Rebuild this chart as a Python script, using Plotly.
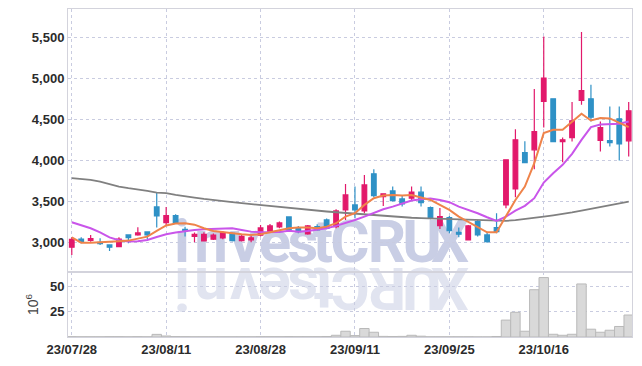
import plotly.graph_objects as go

dates = ["23/07/28", "23/07/31", "23/08/01", "23/08/02", "23/08/03", "23/08/04",
         "23/08/07", "23/08/08", "23/08/09", "23/08/10", "23/08/11",
         "23/08/14", "23/08/16", "23/08/17", "23/08/18",
         "23/08/21", "23/08/22", "23/08/23", "23/08/24", "23/08/25",
         "23/08/28", "23/08/29", "23/08/30", "23/08/31", "23/09/01",
         "23/09/04", "23/09/05", "23/09/06", "23/09/07", "23/09/08",
         "23/09/11", "23/09/12", "23/09/13", "23/09/14", "23/09/15",
         "23/09/18", "23/09/19", "23/09/20", "23/09/21", "23/09/22",
         "23/09/25", "23/09/26", "23/09/27", "23/10/04", "23/10/05", "23/10/06",
         "23/10/10", "23/10/11", "23/10/12", "23/10/13",
         "23/10/16", "23/10/17", "23/10/18", "23/10/19", "23/10/20",
         "23/10/23", "23/10/24", "23/10/25", "23/10/26", "23/10/27"]

open_ = [2939, 3040, 3024, 3000, 2967, 2946, 3090, 3090, 3126, 3432,
         3240, 3326, 3159, 3073, 3016, 3037, 3053, 3110, 3020, 3028,
         3086, 3130, 3187, 3310, 3171, 3102, 3191, 3273, 3191, 3396,
         3457, 3383, 3837, 3559, 3628, 3530, 3539, 3613, 3424, 3204,
         3302, 3122, 3028, 3253, 3090, 3179, 3457, 3653, 4098, 4131,
         4722, 4755, 4232, 4281, 4735, 4755, 4245, 4245, 4510, 4241]
high = [3061, 3061, 3090, 3049, 2975, 3061, 3098, 3184, 3135, 3604,
        3432, 3343, 3191, 3118, 3122, 3106, 3139, 3118, 3098, 3077,
        3212, 3224, 3253, 3310, 3200, 3212, 3220, 3290, 3404, 3714,
        3681, 3824, 3894, 3600, 3681, 3571, 3681, 3681, 3436, 3420,
        3322, 3179, 3212, 3273, 3130, 3355, 4008, 4384, 4237, 4874,
        5519, 4755, 4281, 4715, 5573, 4927, 4477, 4661, 4661, 4715]
low = [2844, 2988, 3007, 2967, 2893, 2939, 2988, 3081, 3037, 3179,
       3212, 3225, 3069, 3000, 3008, 3028, 3037, 3008, 3008, 3000,
       3069, 3122, 3171, 3147, 3110, 3093, 3142, 3159, 3171, 3273,
       3294, 3355, 3551, 3445, 3498, 3436, 3510, 3436, 3282, 3163,
       3110, 3061, 3020, 3069, 2995, 3110, 3416, 3551, 3975, 3894,
       4404, 4232, 3980, 4232, 4682, 4477, 4110, 4171, 4000, 4049]
close = [3037, 3007, 3044, 2983, 2939, 3040, 3057, 3114, 3090, 3322,
         3326, 3233, 3138, 3098, 3098, 3086, 3118, 3020, 3073, 3053,
         3175, 3200, 3236, 3155, 3130, 3200, 3151, 3171, 3383, 3579,
         3396, 3702, 3571, 3592, 3510, 3469, 3613, 3485, 3294, 3314,
         3142, 3098, 3200, 3090, 3008, 3130, 4008, 4253, 3975, 4355,
         5009, 4232, 4253, 4486, 4857, 4531, 4404, 4220, 4204, 4608]

ma_short = [3061, 2995, 2995, 3000, 3000, 3012, 3020, 3040, 3069, 3140,
            3205, 3230, 3233, 3215, 3171, 3138, 3122, 3110, 3098, 3090,
            3098, 3122, 3151, 3171, 3179, 3181, 3171, 3191, 3233, 3314,
            3355, 3457, 3539, 3571, 3579, 3571, 3579, 3551, 3518, 3457,
            3396, 3314, 3253, 3191, 3122, 3122, 3314, 3518, 3681, 3967,
            4335, 4376, 4376, 4477, 4572, 4490, 4519, 4515, 4465, 4409]
ma_mid = [3245, 3212, 3171, 3122, 3060, 3025, 3008, 3012, 3028, 3065,
          3098, 3118, 3135, 3151, 3159, 3163, 3171, 3171, 3151, 3130,
          3122, 3122, 3126, 3142, 3130, 3138, 3151, 3171, 3200, 3233,
          3273, 3314, 3363, 3404, 3436, 3469, 3510, 3527, 3534, 3518,
          3490, 3436, 3396, 3355, 3306, 3261, 3314, 3387, 3445, 3539,
          3730, 3845, 3947, 4082, 4253, 4409, 4441, 4441, 4449, 4477]
ma_long = [3784, 3775, 3763, 3742, 3710, 3681, 3661, 3649, 3628, 3608,
           3600, 3579, 3559, 3547, 3530, 3514, 3502, 3490, 3478, 3466,
           3455, 3445, 3433, 3420, 3404, 3396, 3386, 3376, 3367, 3358,
           3349, 3342, 3335, 3328, 3310, 3305, 3300, 3296, 3292, 3289,
           3286, 3280, 3272, 3265, 3261, 3260, 3262, 3270, 3282, 3298,
           3314, 3330, 3343, 3365, 3387, 3408, 3428, 3448, 3469, 3498]

volume = [0.3, 0.2, 0.2, 0.2, 0.3, 0.3, 0.2, 0.3, 0.2, 2.6,
          1.0, 0.4, 0.3, 0.2, 0.2, 0.2, 0.2, 0.2, 0.2, 0.2,
          0.3, 0.3, 0.3, 0.4, 0.3, 0.3, 0.3, 0.5, 1.7, 5.7,
          1.4, 8.4, 4.7, 0.6, 0.5, 0.6, 1.7, 0.8, 0.2, 0.2,
          0.2, 0.2, 0.2, 0.1, 0.1, 0.5, 16.7, 24.4, 5.7, 46.7,
          58.7, 2.7, 1.7, 2.7, 52.4, 7.7, 4.7, 6.7, 10.4, 21.7]

tick_dates = ["23/07/28", "23/08/11", "23/08/28", "23/09/11", "23/09/25", "23/10/16"]
price_ticks = [3000, 3500, 4000, 4500, 5000, 5500]
volume_ticks = [25, 50]

UP = "#e2196b"
DOWN = "#2f91c6"
GRID = "#c9cce0"
FRAME = "#d3d3dc"
FONT = "Liberation Sans, Arial, sans-serif"

fig = go.Figure()

fig.add_trace(go.Bar(
    x=dates, y=volume, xaxis="x", yaxis="y", width=1.0,
    marker=dict(color="#d9d9d9", line=dict(color="#b9b9b9", width=1)),
    showlegend=False, hoverinfo="skip"))

fig.add_trace(go.Candlestick(
    x=dates, open=open_, high=high, low=low, close=close,
    xaxis="x2", yaxis="y2",
    increasing=dict(line=dict(color=UP, width=1.2), fillcolor=UP),
    decreasing=dict(line=dict(color=DOWN, width=1.2), fillcolor=DOWN),
    whiskerwidth=0, showlegend=False))

for vals, col, w in [(ma_long, "#808080", 1.8), (ma_mid, "#c955ea", 2.0), (ma_short, "#ef834a", 2.0)]:
    fig.add_trace(go.Scatter(x=dates, y=vals, xaxis="x2", yaxis="y2", mode="lines",
                             line=dict(color=col, width=w), showlegend=False, hoverinfo="skip"))

# page body has an 8px margin: the figure is sized to fit the 642x366 window
OFF = 8
W, H = 642 - 2 * OFF, 366 - 2 * OFF
ML, MR, MT, MB = 68 - OFF, 2, 9 - OFF, 21
pw, ph = W - ML - MR, H - MT - MB

# watermark "investCRUX" with reflection (drawn below the traces)
letters = list("investCRUX")
centers = [182, 211, 245, 275, 303, 323, 350, 387, 422, 450]   # screen px
shapes = []
for ch, cx in zip(letters, centers):
    xp = (cx - OFF - ML) / pw
    for cy, ang, colr in [(237, 0, "#c9cee5"), (292, 180, "#e1e4f0")]:
        yp = (H - MB - (cy - OFF)) / ph
        shapes.append(dict(type="rect", xref="paper", yref="paper",
                           x0=xp - 0.03, x1=xp + 0.03, y0=yp - 0.05, y1=yp + 0.05,
                           line=dict(width=0), fillcolor="rgba(0,0,0,0)", layer="below",
                           label=dict(text=ch, textangle=ang, textposition="middle center",
                                      font=dict(family="Roboto, Liberation Sans, sans-serif",
                                                size=60, color=colr, weight="bold"))))

axis_common = dict(showgrid=True, gridcolor=GRID, griddash="dot", gridwidth=1,
                   showline=True, linecolor=FRAME, linewidth=1, mirror=True,
                   zeroline=False, ticks="", automargin=False)

split = (337 - 272) / ph

fig.update_layout(
    width=W, height=H,
    margin=dict(l=ML, r=MR, t=MT, b=MB, autoexpand=False),
    paper_bgcolor="white", plot_bgcolor="white",
    font=dict(family=FONT, size=13, color="#2b2b2b", weight="bold"),
    showlegend=False,
    shapes=shapes,
    xaxis=dict(domain=[0, 1], anchor="y", type="category", range=[-0.4, 59.35],
               tickmode="array", tickvals=tick_dates, ticktext=tick_dates,
               rangeslider=dict(visible=False), **axis_common),
    xaxis2=dict(domain=[0, 1], anchor="y2", matches="x", type="category",
                tickmode="array", tickvals=tick_dates, showticklabels=False,
                rangeslider=dict(visible=False), **axis_common),
    yaxis=dict(domain=[0, split], range=[0, 64.2], tickmode="array", tickvals=volume_ticks,
               title=dict(text="10<sup>6</sup>", font=dict(size=14, color="#444", weight="normal"),
                          standoff=8),
               **axis_common),
    yaxis2=dict(domain=[split, 1], range=[2636, 5854], tickmode="array", tickvals=price_ticks,
                tickformat=",", **axis_common),
)

fig.write_html("out.html")
